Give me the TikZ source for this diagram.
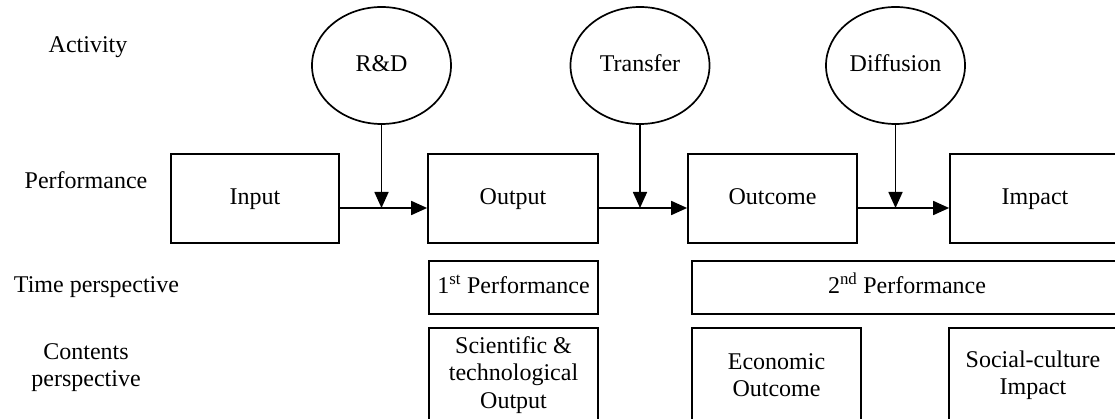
\documentclass[tikz,border=0pt]{standalone}
\usepackage{fontspec}
\setmainfont{Liberation Serif}
\usetikzlibrary{arrows.meta,shapes.geometric}
\begin{document}
\begin{tikzpicture}[x=1pt,y=-1pt,
  every node/.style={font=\fontsize{24}{27.5}\selectfont},
  box/.style={draw,line width=1.7pt,rectangle,inner sep=0pt,align=center},
  one/.style={text height=17pt,text depth=5pt},
  act/.style={draw,line width=1.7pt,ellipse,inner sep=0pt,minimum width=139pt,minimum height=117pt,text height=17pt,text depth=5pt},
  lbl/.style={align=center,inner sep=0pt},
  arr/.style={line width=1.7pt,-{Triangle[length=16pt,width=14pt]}}]
\useasboundingbox (0,0) rectangle (1115,419);
\clip (0,0) rectangle (1115,419);
% row labels
\node[lbl] (lact) at (88,47) {Activity};
\node[lbl] (lperf) at (86,180) {Performance};
\node[lbl] (ltime) at (96.5,287) {Time perspective};
\node[lbl] (lcont) at (86,367.5) {Contents\\perspective};
% activities
\node[act] (rd) at (381.5,65.5) {R\&D};
\node[act] (tr) at (640,65.5) {Transfer};
\node[act] (df) at (895.5,65.5) {Diffusion};
% performance boxes
\node[box,one,minimum width=168pt,minimum height=89pt] (in) at (255,198.5) {Input};
\node[box,one,minimum width=170pt,minimum height=89pt] (out) at (513,198.5) {Output};
\node[box,one,minimum width=169pt,minimum height=89pt] (oc) at (772.5,198.5) {Outcome};
\node[box,one,minimum width=170pt,minimum height=89pt] (im) at (1035,198.5) {Impact};
% junctions
\coordinate (j1) at (rd.south |- 0,208);
\coordinate (j2) at (tr.south |- 0,208);
\coordinate (j3) at (df.south |- 0,208);
\draw[arr] (in.east |- j1) -- (out.west |- j1);
\draw[arr] (out.east |- j2) -- (oc.west |- j2);
\draw[arr] (oc.east |- j3) -- (im.west |- j3);
\draw[arr] (rd.south) -- (j1);
\draw[arr] (tr.south) -- (j2);
\draw[arr] (df.south) -- (j3);
% time perspective
\node[box,one,minimum width=169pt,minimum height=53pt] (p1) at (513.5,287.5) {1\textsuperscript{st} Performance};
\node[box,one,minimum width=430pt,minimum height=53pt] (p2) at (907,287.5) {2\textsuperscript{nd} Performance};
% contents perspective
\node[box,minimum width=169pt,minimum height=94pt] (c1) at (513.5,375) {Scientific \&\\technological\\Output};
\node[box,minimum width=169pt,minimum height=94pt] (c2) at (776.5,375) {Economic\\Outcome};
\node[box,minimum width=168pt,minimum height=94pt] (c3) at (1033,375) {Social-culture\\Impact};
\end{tikzpicture}
\end{document}
